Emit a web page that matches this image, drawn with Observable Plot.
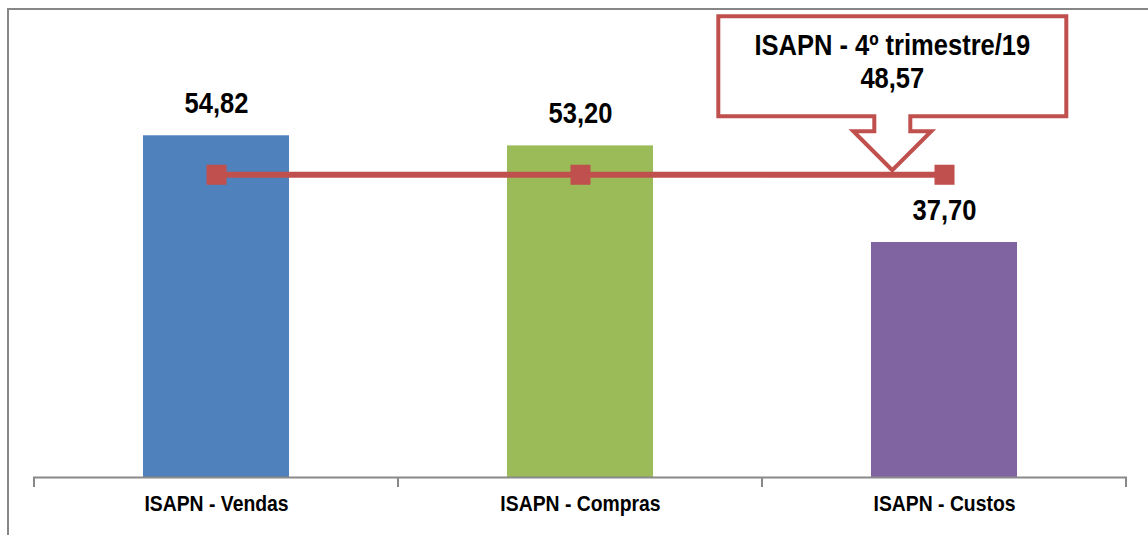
<!DOCTYPE html>
<html><head><meta charset="utf-8">
<script src="https://cdn.jsdelivr.net/npm/d3@7"></script>
<script src="https://cdn.jsdelivr.net/npm/@observablehq/plot@0.6"></script>
<style>
html,body{margin:0;padding:0;background:#fff;overflow:hidden;}
#wrap{position:relative;width:1148px;height:535px;overflow:hidden;}
#border{position:absolute;left:7px;top:8px;width:1200px;height:600px;border:2px solid #878787;box-sizing:border-box;}
#chart{position:absolute;left:0;top:0;}
</style></head>
<body><div id="wrap"><div id="border"></div><div id="chart"></div></div>
<script>
const categories = ["ISAPN - Vendas", "ISAPN - Compras", "ISAPN - Custos"];
const values = [54.82, 53.20, 37.70];
const colors = ["#4F81BD", "#9BBB59", "#8064A2"];
const averageLabel = "ISAPN - 4º trimestre/19";
const averageValue = 48.57;
const yDomain = [0, 60];

const RED = "#C0504D";
const NARROW = 0.88;
const FONT = '"Liberation Sans",Arial,sans-serif';
const fmt = v => v.toFixed(2).replace(".", ",");
const data = categories.map((c, i) => ({category: c, value: values[i], color: colors[i]}));

function bandInfo(x) {
  const bw = typeof x.bandwidth === "function" ? x.bandwidth() : x.bandwidth;
  const step = typeof x.step === "function" ? x.step() : (x(categories[1]) - x(categories[0]));
  return {bw, step};
}

function bandTicks(index, scales) {
  const x = scales.x, y = scales.y;
  const {bw, step} = bandInfo(x);
  const gap = (step - bw) / 2;
  const y0 = y(0);
  const edges = categories.map(c => x(c) - gap).concat([x(categories[categories.length - 1]) + bw + gap]);
  const g = d3.create("svg:g");
  g.selectAll("line").data(edges).join("line")
    .attr("x1", d => d).attr("x2", d => d)
    .attr("y1", y0).attr("y2", y0 + 10)
    .attr("stroke", "#898989").attr("stroke-width", 2);
  return g.node();
}

function callout(index, scales) {
  const x = scales.x, y = scales.y;
  const {bw, step} = bandInfo(x);
  const tx = x(categories[2]) + bw / 2 - 0.142 * step;
  const ty = y(averageValue) - 4;
  const p = [[0,0],[-39,-39],[-18,-39],[-18,-54],[-174,-54],[-174,-154],[174,-154],[174,-54],[18,-54],[18,-39],[39,-39]]
    .map(([dx, dy]) => `${tx + dx},${ty + dy}`).join(" L");
  const g = d3.create("svg:g");
  g.append("path").attr("d", `M${p} Z`).attr("fill", "#fff").attr("stroke", RED)
    .attr("stroke-width", 4).attr("stroke-linejoin", "miter");
  [[averageLabel, -125], [fmt(averageValue), -92]].forEach(([s, off]) => {
    g.append("text").attr("text-anchor", "middle").attr("font-family", FONT)
      .attr("font-size", 29).attr("font-weight", "bold").attr("fill", "#000")
      .attr("transform", `translate(${tx},${ty + off}) scale(${NARROW},1)`)
      .attr("dy", "0.35em").text(s);
  });
  return g.node();
}

const chart = Plot.plot({
  width: 1148,
  height: 535,
  marginLeft: 33,
  marginRight: 21,
  marginTop: 103,
  marginBottom: 58,
  style: {fontFamily: FONT, background: "transparent", overflow: "visible"},
  x: {domain: categories, axis: null, paddingInner: 0.6, paddingOuter: 0.3},
  y: {domain: yDomain, axis: null},
  color: {type: "identity"},
  marks: [
    Plot.barY(data, {x: "category", y: "value", fill: "color"}),
    Plot.ruleY([0], {stroke: "#898989", strokeWidth: 2}),
    bandTicks,
    Plot.line(data, {x: "category", y: () => averageValue, stroke: RED, strokeWidth: 6}),
    Plot.dot(data, {x: "category", y: () => averageValue, symbol: "square", r: 11.3, fill: RED, stroke: "none"}),
    Plot.text(data, {x: "category", y: "value", text: d => fmt(d.value), dy: -32, fontSize: 29, fontWeight: "bold", fill: "#000", className: "narrow"}),
    Plot.text(categories, {x: d => d, frameAnchor: "bottom", dy: 33, fontSize: 22, fontWeight: "bold", fill: "#000", className: "narrow"}),
    callout
  ]
});
// condense the Plot text glyphs horizontally around their anchors (Arial Narrow look)
chart.querySelectorAll("g.narrow text, g[class*='narrow'] text").forEach(t => {
  const tr = t.getAttribute("transform");
  if (tr) t.setAttribute("transform", `${tr} scale(${NARROW},1)`);
  else {
    const xx = +t.getAttribute("x") || 0, yy = +t.getAttribute("y") || 0;
    t.removeAttribute("x"); t.removeAttribute("y");
    t.setAttribute("transform", `translate(${xx},${yy}) scale(${NARROW},1)`);
  }
});
document.getElementById("chart").appendChild(chart);
</script>
</body></html>
